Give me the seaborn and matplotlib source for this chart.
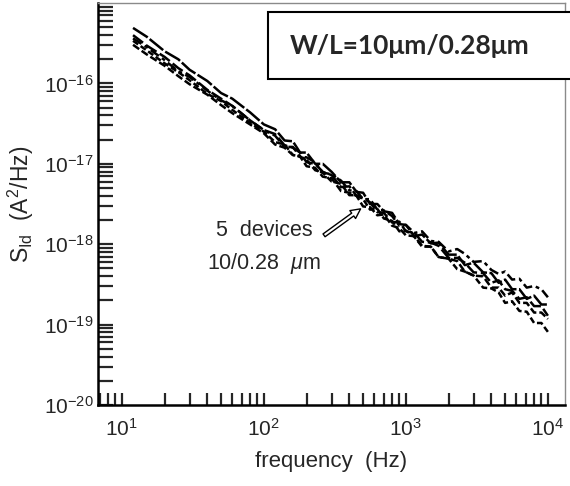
import numpy as np
import pandas as pd
import matplotlib
matplotlib.use("Agg")
import matplotlib.pyplot as plt
import matplotlib.patches as mpatches
from matplotlib.ticker import LogLocator, NullFormatter
import seaborn as sns

# ---- data (log10 of S_Id in A^2/Hz) ----
freq = [12, 15, 20, 25, 30, 40, 50, 60, 80, 100,
        120, 140, 160, 180, 200, 230, 260, 300, 350, 400,
        450, 500, 560, 630, 700, 800, 900, 1000, 1150, 1300,
        1500, 1700, 2000, 2300, 2600, 3000, 3500, 4000, 4500, 5000,
        5600, 6300, 7100, 8000, 9000, 10000]
dev1 = [-15.31, -15.42, -15.60, -15.70, -15.83, -15.97, -16.12, -16.19, -16.36, -16.51,
        -16.57, -16.71, -16.72, -16.86, -16.86, -17.00, -17.00, -17.10, -17.23, -17.23,
        -17.35, -17.36, -17.50, -17.50, -17.59, -17.61, -17.75, -17.76, -17.90, -17.88,
        -17.99, -17.98, -18.13, -18.13, -18.26, -18.23, -18.35, -18.36, -18.48, -18.44,
        -18.56, -18.56, -18.68, -18.64, -18.75, -18.75]
dev2 = [-15.52, -15.64, -15.78, -15.91, -16.01, -16.14, -16.27, -16.37, -16.51, -16.62,
        -16.76, -16.80, -16.89, -16.91, -17.03, -17.05, -17.16, -17.18, -17.34, -17.36,
        -17.40, -17.53, -17.54, -17.64, -17.63, -17.77, -17.80, -17.89, -17.90, -18.02,
        -18.03, -18.16, -18.18, -18.21, -18.34, -18.39, -18.40, -18.54, -18.54, -18.64,
        -18.60, -18.73, -18.73, -18.85, -18.85, -18.93]
dev3 = [-15.44, -15.55, -15.71, -15.85, -15.92, -16.09, -16.21, -16.28, -16.46, -16.58,
        -16.65, -16.79, -16.79, -16.91, -16.92, -16.98, -17.11, -17.13, -17.21, -17.33,
        -17.34, -17.44, -17.44, -17.57, -17.58, -17.65, -17.77, -17.76, -17.86, -17.84,
        -17.96, -17.97, -18.09, -18.06, -18.12, -18.22, -18.21, -18.32, -18.37, -18.34,
        -18.44, -18.43, -18.54, -18.52, -18.56, -18.66]
dev4 = [-15.47, -15.59, -15.75, -15.86, -15.96, -16.13, -16.22, -16.33, -16.49, -16.60,
        -16.73, -16.76, -16.89, -16.91, -16.95, -17.08, -17.11, -17.22, -17.25, -17.39,
        -17.39, -17.44, -17.57, -17.56, -17.68, -17.71, -17.84, -17.83, -17.91, -18.03,
        -18.03, -18.16, -18.18, -18.31, -18.34, -18.39, -18.54, -18.55, -18.60, -18.73,
        -18.71, -18.83, -18.84, -18.98, -18.98, -19.09]
dev5 = [-15.40, -15.53, -15.67, -15.81, -15.90, -16.08, -16.19, -16.28, -16.46, -16.58,
        -16.63, -16.77, -16.80, -16.86, -16.98, -17.00, -17.10, -17.14, -17.29, -17.28,
        -17.40, -17.43, -17.48, -17.60, -17.61, -17.73, -17.72, -17.84, -17.86, -17.97,
        -17.98, -18.02, -18.17, -18.17, -18.23, -18.35, -18.36, -18.48, -18.45, -18.56,
        -18.58, -18.68, -18.66, -18.77, -18.77, -18.89]
devices = ["d1", "d2", "d3", "d4", "d5"]
series = [dev1, dev2, dev3, dev4, dev5]

rows = []
for name, vals in zip(devices, series):
    for f, v in zip(freq, vals):
        rows.append({"frequency": f, "S": 10.0 ** v, "device": name})
df = pd.DataFrame(rows)

sns.set_style("ticks")
plt.rcParams["font.family"] = ["Liberation Sans", "DejaVu Sans"]
plt.rcParams["mathtext.fontset"] = "custom"
plt.rcParams["mathtext.rm"] = "Liberation Sans"
plt.rcParams["mathtext.it"] = "Liberation Sans:italic"
plt.rcParams["mathtext.default"] = "regular"

fig = plt.figure(figsize=(5.70, 4.86), dpi=100)
ax = fig.add_axes([98 / 570, 81 / 486, (565 - 98) / 570, (405 - 3) / 486])

dashes = [(7, 1), (3, 1.2), (4, 1.5, 1.5, 1.5), (2.5, 1.2), (5, 1.5)]
sns.lineplot(data=df, x="frequency", y="S", hue="device", style="device",
             palette=["black"] * 5, dashes=dashes, linewidth=1.8,
             legend=False, ax=ax)

ax.set_xscale("log")
ax.set_yscale("log")
ax.set_xlim(6.8, 13200)
ax.set_ylim(1e-20, 1e-15)

ax.xaxis.set_major_locator(LogLocator(base=10, numticks=10))
ax.xaxis.set_minor_locator(LogLocator(base=10, subs=np.arange(2, 10), numticks=20))
ax.yaxis.set_major_locator(LogLocator(base=10, numticks=10))
ax.yaxis.set_minor_locator(LogLocator(base=10, subs=np.arange(2, 10), numticks=20))
ax.xaxis.set_minor_formatter(NullFormatter())
ax.yaxis.set_minor_formatter(NullFormatter())
ax.set_yticks([1e-20, 1e-19, 1e-18, 1e-17, 1e-16])

ax.tick_params(axis="y", which="both", direction="in", length=11, width=1.6,
               labelsize=15, pad=3)
ax.tick_params(axis="x", which="both", direction="in", length=9, width=1.6,
               labelsize=15, pad=9)

for s in ["left", "bottom"]:
    ax.spines[s].set_linewidth(1.8)
    ax.spines[s].set_color("black")
for s in ["top", "right"]:
    ax.spines[s].set_linewidth(1.0)
    ax.spines[s].set_color("#8a8a8a")

ax.set_xlabel("frequency  (Hz)", fontsize=16, labelpad=8)
ax.set_ylabel(r"S$_{\mathrm{Id}}$  (A$^2$/Hz)", fontsize=16.5, labelpad=6)

ax.text(100, 10 ** -17.83, "5  devices", fontsize=15.5, ha="center", va="center")
ax.text(100, 10 ** -18.24, r"10/0.28  $\mathit{\mu}$m", fontsize=15.5, ha="center", va="center")
ax.annotate("", xy=(498, 10 ** -17.54), xytext=(256, 10 ** -17.91),
            arrowprops=dict(arrowstyle="simple,head_length=0.7,head_width=0.7,tail_width=0.25",
                            fc="white", ec="black", lw=1.0))

rect = mpatches.Rectangle((268 / 570, 1 - 79 / 486), 0.6, (79 - 12) / 486,
                          transform=fig.transFigure, fc="white", ec="black",
                          lw=1.5, clip_on=False, zorder=5)
fig.patches.append(rect)
fig.text(290 / 570, 1 - 45.5 / 486, "W/L=10μm/0.28μm", fontsize=19,
         fontweight="bold", family=["Lato", "DejaVu Sans"], ha="left",
         va="center", zorder=6)

fig.savefig("out.png", dpi=100)
